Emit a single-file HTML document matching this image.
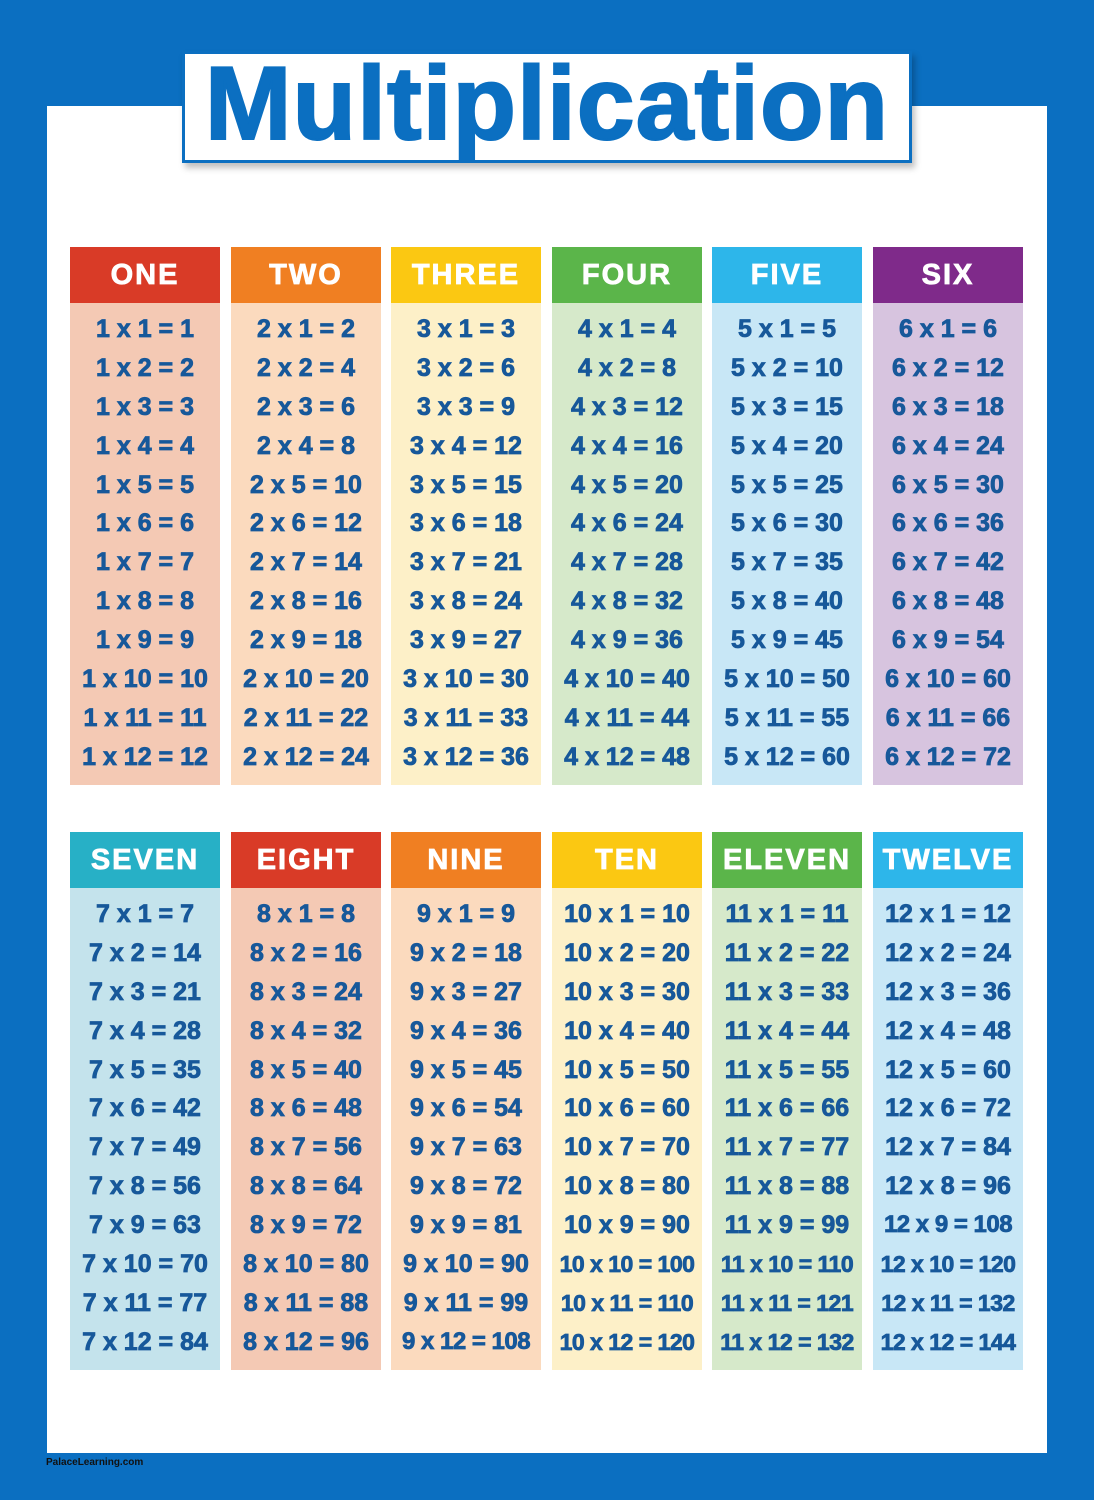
<!DOCTYPE html>
<html><head><meta charset="utf-8"><style>
*{margin:0;padding:0;box-sizing:border-box}
body{width:1094px;height:1500px;background:#0b6fc1;position:relative;overflow:hidden;font-family:"Liberation Sans",sans-serif}
.inner{position:absolute;left:47px;top:106px;width:1000px;height:1347px;background:#fff}
.title{position:absolute;left:182px;top:51px;width:730px;height:112px;background:#fff;border:3px solid #0b6fc1;box-shadow:3px 5px 6px rgba(0,0,0,.25);text-align:center;font-weight:900;font-size:104px;line-height:100px;color:#0b6fc1;letter-spacing:1px;-webkit-text-stroke:2px #0b6fc1}
.col{position:absolute;width:150px}
.hd{height:56px;color:#fff;font-weight:bold;font-size:29px;line-height:56px;text-align:center;letter-spacing:2px;-webkit-text-stroke:0.8px #fff}
.bd{height:482px;padding-top:7px}
.bd div{height:38.9px;line-height:38.9px;text-align:center;font-weight:bold;font-size:25px;color:#17589a;white-space:nowrap;letter-spacing:0px;-webkit-text-stroke:0.8px #17589a}
.foot{position:absolute;left:46px;top:1457px;font-size:10px;font-weight:bold;color:#111}
</style></head><body>
<div class="inner"></div>
<div class="title">Multiplication</div>
<div id="g"></div>
<div class="foot">PalaceLearning.com</div>
<script>
var names=["ONE","TWO","THREE","FOUR","FIVE","SIX","SEVEN","EIGHT","NINE","TEN","ELEVEN","TWELVE"];
var hc=["#d93b27","#f07f22","#fbc812","#5bb54a","#2db6ea","#7f2a8a","#27b0c6","#d93b27","#f07f22","#fbc812","#5bb54a","#2db6ea"];
var bc=["#f4c9b4","#fbdabe","#fdf0c8","#d6e9ca","#c8e7f6","#d7c4df","#c4e3ec","#f4c9b4","#fbdabe","#fdf0c8","#d6e9ca","#c8e7f6"];
var xs=[70,231,391,552,712,873];
var h="";
for(var n=1;n<=12;n++){var i=n-1,x=xs[i%6],y=i<6?247:832;
h+='<div class="col" style="left:'+x+'px;top:'+y+'px"><div class="hd" style="background:'+hc[i]+'">'+names[i]+'</div><div class="bd" style="background:'+bc[i]+'">';
for(var k=1;k<=12;k++){var s=n+' x '+k+' = '+(n*k);var fs=s.length>=14?21:(s.length>=13?23:(s.length>=12?24:25));var ls=s.length>=14?'-0.8px':(s.length>=12?'-0.5px':'0px');h+='<div style="font-size:'+fs+'px;letter-spacing:'+ls+'">'+s+'</div>';}
h+='</div></div>';}
document.getElementById('g').innerHTML=h;
</script>
</body></html>
